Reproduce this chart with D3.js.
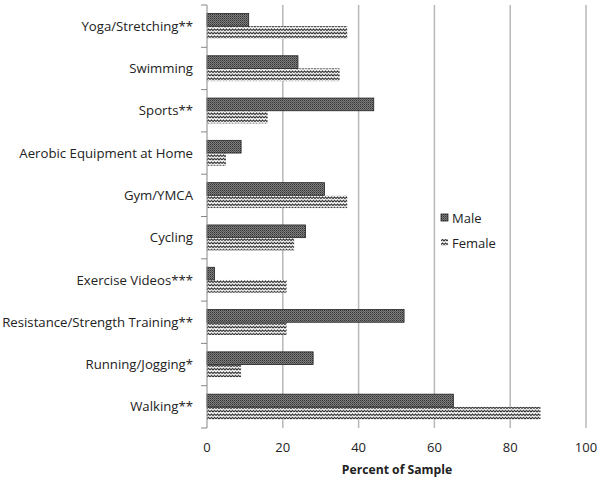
<!DOCTYPE html>
<html><head><meta charset="utf-8">
<script src="https://cdn.jsdelivr.net/npm/d3@7"></script>
<style>body{margin:0;background:#fff}svg{display:block}</style>
</head><body>
<script>
const categories = ["Yoga/Stretching**","Swimming","Sports**","Aerobic Equipment at Home","Gym/YMCA","Cycling","Exercise Videos***","Resistance/Strength Training**","Running/Jogging*","Walking**"];
const male   = [11,24,44,9,31,26,2,52,28,65];
const female = [37,35,16,5,37,23,21,21,9,88];
const series = ["Male","Female"];
const xTicks = [0,20,40,60,80,100];

const W=600,H=480;
const m={l:207,r:14,t:5,b:52};
const svg=d3.select("body").append("svg").attr("width",W).attr("height",H);
const defs=svg.append("defs");
// male pattern: dark checker
const pm=defs.append("pattern").attr("id","pMale").attr("patternUnits","userSpaceOnUse").attr("width",2).attr("height",2);
pm.append("rect").attr("width",2).attr("height",2).attr("fill","#7e7e7e");
pm.append("rect").attr("width",1).attr("height",1).attr("fill","#333");
pm.append("rect").attr("x",1).attr("y",1).attr("width",1).attr("height",1).attr("fill","#555");
// female pattern: zigzag waves
const pf=defs.append("pattern").attr("id","pFemale").attr("patternUnits","userSpaceOnUse").attr("width",6).attr("height",3.5);
pf.append("rect").attr("width",6).attr("height",3.5).attr("fill","#fff");
pf.append("path").attr("d","M0,2.6 L1.5,0.9 L3,2.6 L4.5,0.9 L6,2.6").attr("fill","none").attr("stroke","#111").attr("stroke-width",1);

const x=d3.scaleLinear().domain([0,100]).range([m.l,W-m.r]);
const y=d3.scaleBand().domain(categories).range([m.t,H-m.b]).paddingInner(0.4).paddingOuter(0.2);
const y1=d3.scaleBand().domain(series).range([0,y.bandwidth()]);

// gridlines
svg.append("g").selectAll("line").data(xTicks.filter(d=>d>0)).join("line")
 .attr("x1",d=>x(d)).attr("x2",d=>x(d)).attr("y1",m.t).attr("y2",H-m.b)
 .attr("stroke","#b8b8b8").attr("stroke-width",1.5);

const font="'Open Sans', sans-serif";
const data=categories.map((c,i)=>({c,Male:male[i],Female:female[i]}));
const g=svg.append("g");
data.forEach(d=>{
  g.append("rect").attr("x",x(0)).attr("y",y(d.c)+y1("Female")).attr("width",x(d.Female)-x(0)).attr("height",y1.bandwidth())
   .attr("fill","url(#pFemale)");
  g.append("rect").attr("x",x(0)).attr("y",y(d.c)+y1("Male")).attr("width",x(d.Male)-x(0)).attr("height",y1.bandwidth())
   .attr("fill","url(#pMale)").attr("stroke","#222").attr("stroke-width",0.8);
});

// y axis
const bounds=d3.range(categories.length+1).map(i=>m.t+i*(H-m.b-m.t)/categories.length);
svg.append("line").attr("x1",x(0)).attr("x2",x(0)).attr("y1",m.t).attr("y2",H-m.b).attr("stroke","#888").attr("stroke-width",1);
svg.append("g").selectAll("line").data(bounds).join("line")
 .attr("x1",x(0)-6).attr("x2",x(0)).attr("y1",d=>d).attr("y2",d=>d).attr("stroke","#888");
svg.append("g").selectAll("text").data(categories).join("text")
 .attr("x",193).attr("y",d=>y(d)+y.bandwidth()/2).attr("dy","0.35em").attr("text-anchor","end")
 .attr("font-family",font).attr("font-size",13.2).attr("fill","#222").text(d=>d);

// x tick labels
svg.append("g").selectAll("text").data(xTicks).join("text")
 .attr("x",d=>x(d)).attr("y",452).attr("text-anchor","middle")
 .attr("font-family",font).attr("font-size",13).attr("fill","#222").text(d=>d);
svg.append("text").attr("x",397).attr("y",474).attr("text-anchor","middle")
 .attr("font-family",font).attr("font-size",12.2).attr("font-weight","bold").attr("fill","#222").text("Percent of Sample");

// legend
const lg=svg.append("g").attr("transform","translate(441,214)");
series.forEach((s,i)=>{
  const gy=i*25;
  lg.append("rect").attr("x",0).attr("y",gy).attr("width",7).attr("height",7)
    .attr("fill",s==="Male"?"url(#pMale)":"url(#pFemale)").attr("stroke",s==="Male"?"#222":"none").attr("stroke-width",0.8);
  lg.append("text").attr("x",11).attr("y",gy+4).attr("dy","0.35em").attr("font-family",font).attr("font-size",13).attr("fill","#222").text(s);
});
</script>
</body></html>
